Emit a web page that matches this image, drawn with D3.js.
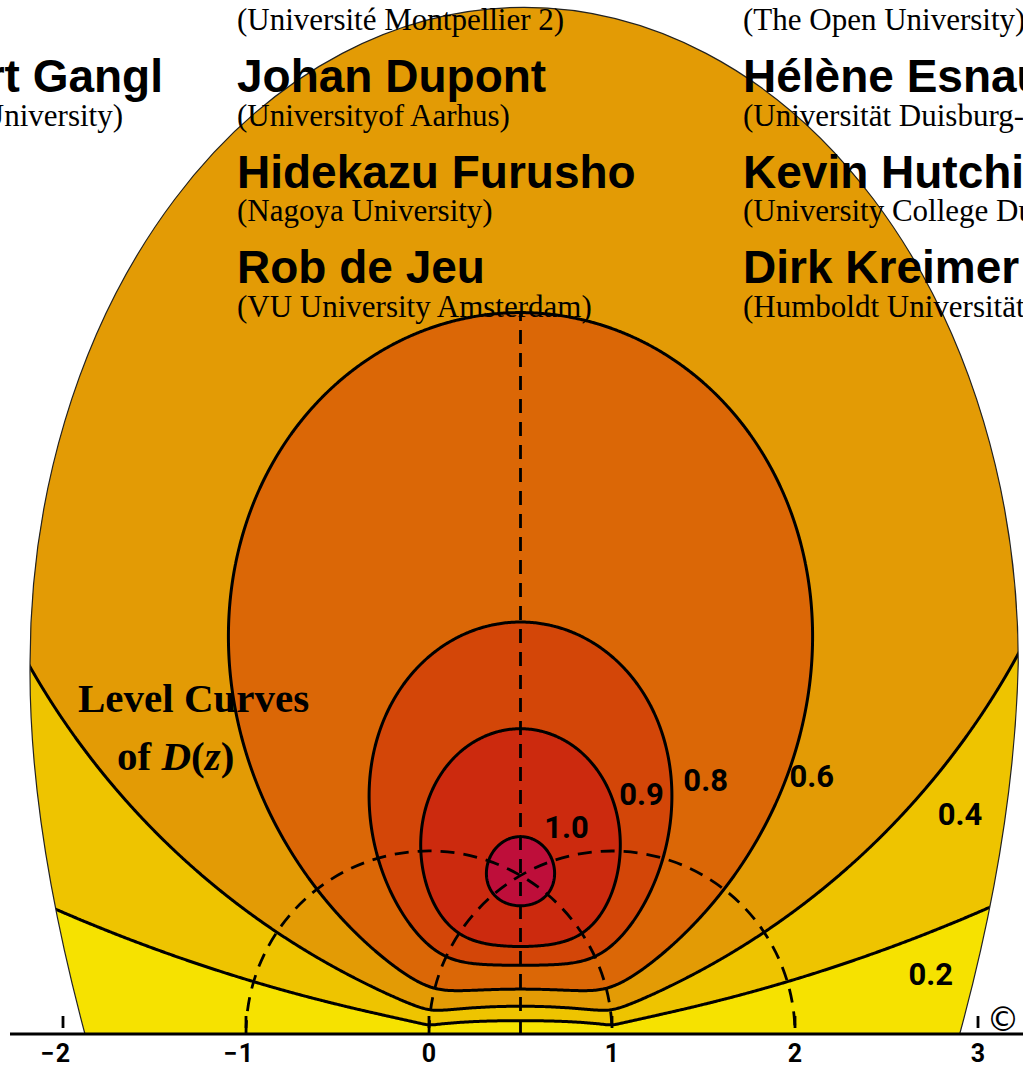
<!DOCTYPE html>
<html>
<head>
<meta charset="utf-8">
<script src="https://cdn.jsdelivr.net/npm/d3@7"></script>
<style>
  html, body { margin: 0; padding: 0; background: #fff; overflow: hidden; }
  svg { display: block; }
</style>
</head>
<body>
<div id="chart"></div>
<script>
// values
const ticks = [-2, -1, 0, 1, 2, 3];
const levels = [0.2, 0.4, 0.6, 0.8, 0.9, 1.0];
const bandColors = ['#F6E200', '#EEC400', '#E39B05', '#DB6706', '#D34608', '#CC2A0E', '#BE0E3A'];
const levelLabels = ['0.2', '0.4', '0.6', '0.8', '0.9', '1.0'];
// where each level label sits, in the z plane
const labelRe = [2.62, 2.78, 1.97, 1.39, 1.04, 0.63];
const labelIm = [0.27, 1.14, 1.35, 1.33, 1.25, 1.07];

const namesLeft = ['Herbert Gangl'];
const affilLeft = ['(Durham University)'];
const namesMid = ['Johan Dupont', 'Hidekazu Furusho', 'Rob de Jeu'];
const affilMid = ['(Université Montpellier 2)', '(Universityof Aarhus)', '(Nagoya University)', '(VU University Amsterdam)'];
const namesRight = ['Hélène Esnault', 'Kevin Hutchinson', 'Dirk Kreimer'];
const affilRight = ['(The Open University)', '(Universität Duisburg-Essen)', '(University College Dublin)', '(Humboldt Universität zu Berlin)'];

const width = 1023, height = 1067;

// one unit of the complex plane is the same on both axes
const x = d3.scaleLinear().domain([0, 1]).range([429, 612]);
const y = d3.scaleLinear().domain([0, 1]).range([1034, 851]);

// painted frame (egg shape), in z plane units
const frame = { cx: 0.52, cy: 2.03, rx: 2.7, ry: 3.58 };

// Bloch-Wigner dilogarithm
/////////////////////////////////
// B_n / (n+1)! for Li2(z) = sum c_n u^(n+1), u = -log(1-z)
const bern = [1, -1 / 4, 1 / 36, 0, -1 / 3600, 0, 1 / 211680, 0, -1 / 10886400, 0,
    1.8978869e-9, 0, -4.0647616e-11, 0, 8.9216910e-13, 0, -1.9939295e-14, 0, 4.5189800e-16];

function imLi2(re, im) {
    let ur = -0.5 * Math.log((1 - re) * (1 - re) + im * im);
    let ui = Math.atan2(im, 1 - re);
    let pr = ur, pi = ui, s = 0;
    for (let k = 0; k < bern.length; k++) {
        s += bern[k] * pi;
        let t = pr * ur - pi * ui;
        pi = pr * ui + pi * ur;
        pr = t;
    }
    return s;
}

function blochWigner(re, im) {
    if (im === 0) return 0;
    let r2 = re * re + im * im;
    if (r2 > 1) return -blochWigner(re / r2, -im / r2);
    if (re > 0.5) return -blochWigner(1 - re, -im);
    return imLi2(re, im) + Math.atan2(-im, 1 - re) * 0.5 * Math.log(r2);
}

// svg
/////////////////////////////////
const svg = d3.select('#chart')
    .append('svg')
    .attr('width', width)
    .attr('height', height);

let fx = x(frame.cx), fy = y(frame.cy);
let frx = x(frame.cx + frame.rx) - fx, fry = fy - y(frame.cy + frame.ry);
let frameD = 'M' + (fx - frx) + ',' + fy +
    'A' + frx + ',' + fry + ' 0 0 1 ' + (fx + frx) + ',' + fy +
    'Q' + x(3.2) + ',' + y(1.1) + ' ' + x(2.9) + ',' + y(0) +
    'L' + x(-1.88) + ',' + y(0) +
    'Q' + x(-2.19) + ',' + y(1.16) + ' ' + (fx - frx) + ',' + fy + 'Z';

svg.append('clipPath')
    .attr('id', 'frame_clip')
    .append('path')
    .attr('d', frameD);

let paint = svg.append('g').attr('clip-path', 'url(#frame_clip)');

paint.append('path')
    .attr('d', frameD)
    .attr('fill', bandColors[0]);

// sample D(z) on a pixel grid and contour it
const step = 1.5, gx0 = -12, gy0 = -12;
const nx = Math.ceil((width + 24) / step);
const ny = Math.ceil((y(0) + 8 - gy0) / step);
let values = new Float64Array(nx * ny);
for (let j = 0; j < ny; j++) {
    let im = y.invert(gy0 + j * step);
    for (let i = 0; i < nx; i++) {
        values[j * nx + i] = blochWigner(x.invert(gx0 + i * step), im);
    }
}

let contours = d3.contours().size([nx, ny]).thresholds(levels)(values);
let gridPath = d3.geoPath(d3.geoTransform({
    point: function (gx, gy) {
        this.stream.point(gx0 + (gx - 0.5) * step, gy0 + (gy - 0.5) * step);
    }
}));

paint.selectAll('.band')
    .data(contours)
    .enter()
    .append('path')
    .attr('class', 'band')
    .attr('d', gridPath)
    .attr('fill', (d, i) => bandColors[i + 1]);

paint.selectAll('.level')
    .data(contours)
    .enter()
    .append('path')
    .attr('class', 'level')
    .attr('d', gridPath)
    .attr('fill', 'none')
    .attr('stroke', '#000')
    .attr('stroke-width', 3)
    .attr('stroke-linejoin', 'round');

// dashed symmetry lines: Re z = 1/2, |z| = 1, |z-1| = 1
/////////////////////////////////
// top of the vertical one is where it meets the 0.6 curve
let lo = 1, hi = 6;
for (let k = 0; k < 40; k++) {
    let mid = (lo + hi) / 2;
    if (blochWigner(0.5, mid) > 0.6) lo = mid; else hi = mid;
}

let dashes = paint.append('g')
    .attr('fill', 'none')
    .attr('stroke', '#000')
    .attr('stroke-width', 2.8)
    .attr('stroke-dasharray', '14,9');

dashes.append('line')
    .attr('x1', x(0.5)).attr('x2', x(0.5))
    .attr('y1', y(0)).attr('y2', y(lo));

[0, 1].forEach(function (c) {
    let p = d3.path();
    p.arc(x(c), y(0), x(1) - x(0), Math.PI, 2 * Math.PI);
    dashes.append('path').attr('d', p.toString());
});

svg.append('path')
    .attr('d', frameD)
    .attr('fill', 'none')
    .attr('stroke', '#222')
    .attr('stroke-width', 1.2);

// axis
/////////////////////////////////
svg.append('line')
    .attr('x1', 10).attr('x2', width)
    .attr('y1', y(0)).attr('y2', y(0))
    .attr('stroke', '#000')
    .attr('stroke-width', 2.8);

svg.selectAll('.tick_mark')
    .data(ticks)
    .enter()
    .append('line')
    .attr('class', 'tick_mark')
    .attr('x1', d => x(d)).attr('x2', d => x(d))
    .attr('y1', y(0) - 18).attr('y2', y(0) - 6)
    .attr('stroke', '#000')
    .attr('stroke-width', 2.8);

let tickText = svg.selectAll('.tick_label')
    .data(ticks)
    .enter()
    .append('g')
    .attr('class', 'tick_label')
    .attr('font-family', 'Roboto, sans-serif')
    .attr('font-weight', 'bold')
    .attr('font-size', 25);

tickText.append('text')
    .attr('x', d => x(d))
    .attr('y', 1062)
    .attr('text-anchor', 'middle')
    .text(d => Math.abs(d));

tickText.filter(d => d < 0)
    .append('text')
    .attr('x', d => x(d) - 9)
    .attr('y', 1062)
    .attr('text-anchor', 'end')
    .text('\u2212');

svg.append('text')
    .attr('x', 1003)
    .attr('y', 1031)
    .attr('text-anchor', 'middle')
    .attr('font-family', 'DejaVu Sans, sans-serif')
    .attr('font-size', 33)
    .text('\u00A9');

// level labels
/////////////////////////////////
svg.selectAll('.level_label')
    .data(levelLabels)
    .enter()
    .append('text')
    .attr('class', 'level_label')
    .attr('x', (d, i) => x(labelRe[i]))
    .attr('y', (d, i) => y(labelIm[i]))
    .attr('font-family', 'Roboto, sans-serif')
    .attr('font-weight', 'bold')
    .attr('font-size', 31)
    .text(d => d);

let title = svg.append('g')
    .attr('font-family', 'Liberation Serif, serif')
    .attr('font-weight', 'bold')
    .attr('font-size', 41);

title.append('text')
    .attr('x', 78).attr('y', 712)
    .text('Level Curves');

let title2 = title.append('text')
    .attr('x', 117).attr('y', 770);
title2.append('tspan').text('of ');
title2.append('tspan').attr('font-style', 'italic').text('D');
title2.append('tspan').text('(');
title2.append('tspan').attr('font-style', 'italic').text('z');
title2.append('tspan').text(')');

// names over the picture
/////////////////////////////////
const rowPitch = 95.5, affilTop = 30, nameTop = 92;

function addColumn(names, affils, xPos, anchor, firstAffilRow) {
    svg.append('g')
        .selectAll('text')
        .data(names)
        .enter()
        .append('text')
        .attr('x', xPos)
        .attr('y', (d, i) => nameTop + i * rowPitch)
        .attr('text-anchor', anchor)
        .attr('font-family', 'Liberation Sans, Arial, sans-serif')
        .attr('font-weight', 'bold')
        .attr('font-size', 46)
        .text(d => d);

    svg.append('g')
        .selectAll('text')
        .data(affils)
        .enter()
        .append('text')
        .attr('x', xPos)
        .attr('y', (d, i) => affilTop + (i + firstAffilRow) * rowPitch)
        .attr('text-anchor', anchor)
        .attr('font-family', 'Liberation Serif, serif')
        .attr('font-size', 31)
        .text(d => d);
}

addColumn(namesMid, affilMid, 237, 'start', 0);
addColumn(namesRight, affilRight, 743, 'start', 0);
addColumn(namesLeft, [], 163, 'end', 1);
addColumn([], affilLeft, 123, 'end', 1);
</script>
</body>
</html>
